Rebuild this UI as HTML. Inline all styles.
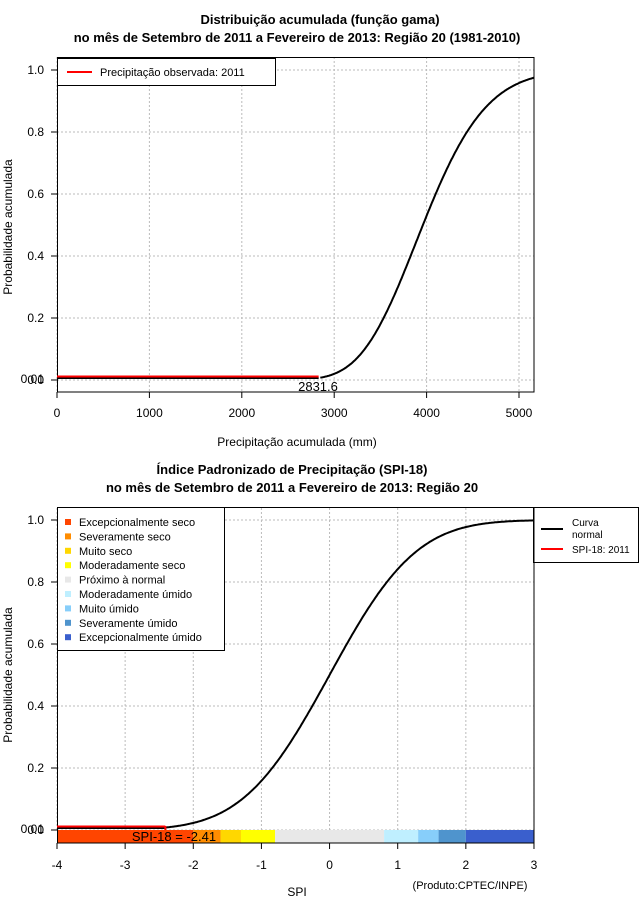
<!DOCTYPE html>
<html><head><meta charset="utf-8"><style>
body{margin:0;background:#fff;}
svg{display:block;font-family:"Liberation Sans",sans-serif;}
</style></head><body>
<svg id="s" width="640" height="900" xmlns="http://www.w3.org/2000/svg">
<rect width="640" height="900" fill="#fff"/>
<g font-weight="bold" font-size="13" text-anchor="middle">
<text x="320" y="24">Distribuição acumulada (função gama)</text>
<text x="297" y="42">no mês de Setembro de 2011 a Fevereiro de 2013: Região 20 (1981-2010)</text>
<text x="292" y="474">Índice Padronizado de Precipitação (SPI-18)</text>
<text x="292" y="492">no mês de Setembro de 2011 a Fevereiro de 2013: Região 20</text>
</g>
<g id="g1" stroke="#bbb" stroke-dasharray="2,2" stroke-width="1"></g>
<g id="c" fill="none"></g>
<g font-size="12">
<text x="297" y="446" text-anchor="middle">Precipitação acumulada (mm)</text>
<text transform="translate(12,227) rotate(-90)" text-anchor="middle">Probabilidade acumulada</text>
<text x="297" y="896" text-anchor="middle">SPI</text>
<text transform="translate(12,675) rotate(-90)" text-anchor="middle">Probabilidade acumulada</text>
<text x="470" y="889" font-size="11" text-anchor="middle">(Produto:CPTEC/INPE)</text>
</g>
<!-- top legend -->
<rect x="57.5" y="58.5" width="218" height="27" fill="#fff" stroke="#000"/>
<line x1="67" y1="72" x2="92" y2="72" stroke="red" stroke-width="2"/>
<text x="100" y="76" font-size="11">Precipitação observada: 2011</text>
<!-- bottom left legend -->
<rect x="57.5" y="507.5" width="167" height="143" fill="#fff" stroke="#000"/>
<g font-size="11" id="lg"></g>
<!-- right legend -->
<rect x="533.5" y="507.5" width="105" height="55" fill="#fff" stroke="#000"/>
<line x1="541" y1="529" x2="563" y2="529" stroke="#000" stroke-width="2"/>
<line x1="541" y1="549" x2="563" y2="549" stroke="red" stroke-width="2"/>
<text x="572" y="526" font-size="10">Curva</text>
<text x="572" y="538" font-size="10">normal</text>
<text x="572" y="553" font-size="10">SPI-18: 2011</text>
</svg>
<script>
var s=document.getElementById('s'),NS='http://www.w3.org/2000/svg';
function el(t,a,p){var e=document.createElementNS(NS,t);for(var k in a)e.setAttribute(k,a[k]);(p||s).appendChild(e);return e;}
function txt(x,y,t,a){var e=el('text',Object.assign({x:x,y:y,'font-size':12},a||{}));e.textContent=t;return e;}
var g1=document.getElementById('g1'),c=document.getElementById('c');
function erf(x){var t=1/(1+0.3275911*Math.abs(x));var y=1-(((((1.061405429*t-1.453152027)*t)+1.421413741)*t-0.284496736)*t+0.254829592)*t*Math.exp(-x*x);return x>=0?y:-y;}
function Phi(z){return 0.5*(1+erf(z/Math.SQRT2));}
// top plot
var L=57,R=534;
function ty(p){return 380-p*310;}
function tx(v){return 57+v*0.0924;}
[0,1000,2000,3000,4000,5000].forEach(function(v){el('line',{x1:tx(v),y1:57,x2:tx(v),y2:392},g1);el('line',{x1:tx(v),y1:392,x2:tx(v),y2:398,stroke:'#000'});txt(tx(v),417,v,{'text-anchor':'middle'});});
[0,0.2,0.4,0.6,0.8,1].forEach(function(p){el('line',{x1:57,y1:ty(p),x2:534,y2:ty(p)},g1);el('line',{x1:51,y1:ty(p),x2:57,y2:ty(p),stroke:'#000'});txt(44,ty(p)+4,p.toFixed(1),{'text-anchor':'end'});});
el('rect',{x:57.5,y:57.5,width:476.5,height:334.5,fill:'none',stroke:'#000'});
var d='';for(var v=2850;v<=5162;v+=10){var z=(Math.log(v)-Math.log(3960))/0.135;d+=(d?'L':'M')+tx(v).toFixed(1)+','+ty(Phi(z)).toFixed(1);}
el('path',{d:d,stroke:'#000','stroke-width':2,fill:'none'},c);
el('line',{x1:57,y1:378,x2:tx(2831.6),y2:378,stroke:'#000','stroke-width':2});
el('line',{x1:57,y1:376.5,x2:tx(2831.6),y2:376.5,stroke:'red','stroke-width':2});
txt(44,383,'0.01',{'text-anchor':'end'});
txt(318,391,'2831.6',{'text-anchor':'middle','font-size':13});
// bottom plot
function bx(v){return 57+(v+4)*68.14;}
function by(p){return 830-p*310;}
var cols=[[-4,-2,'#FF4500'],[-2,-1.6,'#FF8C00'],[-1.6,-1.3,'#FFD700'],[-1.3,-0.8,'#FFFF00'],[-0.8,0.8,'#E8E8E8'],[0.8,1.3,'#BFEFFF'],[1.3,1.6,'#87CEFA'],[1.6,2,'#4F94CD'],[2,3,'#3A5FCD']];
cols.forEach(function(a){el('rect',{x:bx(a[0]),y:830,width:bx(a[1])-bx(a[0]),height:13,fill:a[2]});});
[-4,-3,-2,-1,0,1,2,3].forEach(function(v){el('line',{x1:bx(v),y1:508,x2:bx(v),y2:830},g1);el('line',{x1:bx(v),y1:843,x2:bx(v),y2:849,stroke:'#000'});txt(bx(v),869,v,{'text-anchor':'middle'});});
[0,0.2,0.4,0.6,0.8,1].forEach(function(p){el('line',{x1:57,y1:by(p),x2:534,y2:by(p)},g1);el('line',{x1:51,y1:by(p),x2:57,y2:by(p),stroke:'#000'});txt(44,by(p)+4,p.toFixed(1),{'text-anchor':'end'});});
el('rect',{x:57.5,y:507.5,width:476.5,height:335.5,fill:'none',stroke:'#000'});
d='';for(var v=-2.41;v<=3.001;v+=0.02){d+=(d?'L':'M')+bx(v).toFixed(1)+','+by(Phi(v)).toFixed(1);}
el('path',{d:d,stroke:'#000','stroke-width':2,fill:'none'},c);
el('line',{x1:57,y1:828,x2:bx(-2.41),y2:828,stroke:'#000','stroke-width':2});
el('line',{x1:57,y1:826.5,x2:bx(-2.41),y2:826.5,stroke:'red','stroke-width':2});
el('line',{x1:bx(-2.41),y1:826,x2:bx(-2.41),y2:830,stroke:'red','stroke-width':2});
txt(44,833,'0.01',{'text-anchor':'end'});
txt(174,841,'SPI-18 = -2.41',{'text-anchor':'middle','font-size':13});
var lg=document.getElementById('lg');
var items=[['Excepcionalmente seco','#FF4500'],['Severamente seco','#FF8C00'],['Muito seco','#FFD700'],['Moderadamente seco','#FFFF00'],['Próximo à normal','#E8E8E8'],['Moderadamente úmido','#BFEFFF'],['Muito úmido','#87CEFA'],['Severamente úmido','#4F94CD'],['Excepcionalmente úmido','#3A5FCD']];
items.forEach(function(a,i){var y=522+i*14.4;el('rect',{x:65,y:y-3,width:6,height:6,fill:a[1]},lg);var t=el('text',{x:79,y:y+4},lg);t.textContent=a[0];});
</script>
</body></html>
